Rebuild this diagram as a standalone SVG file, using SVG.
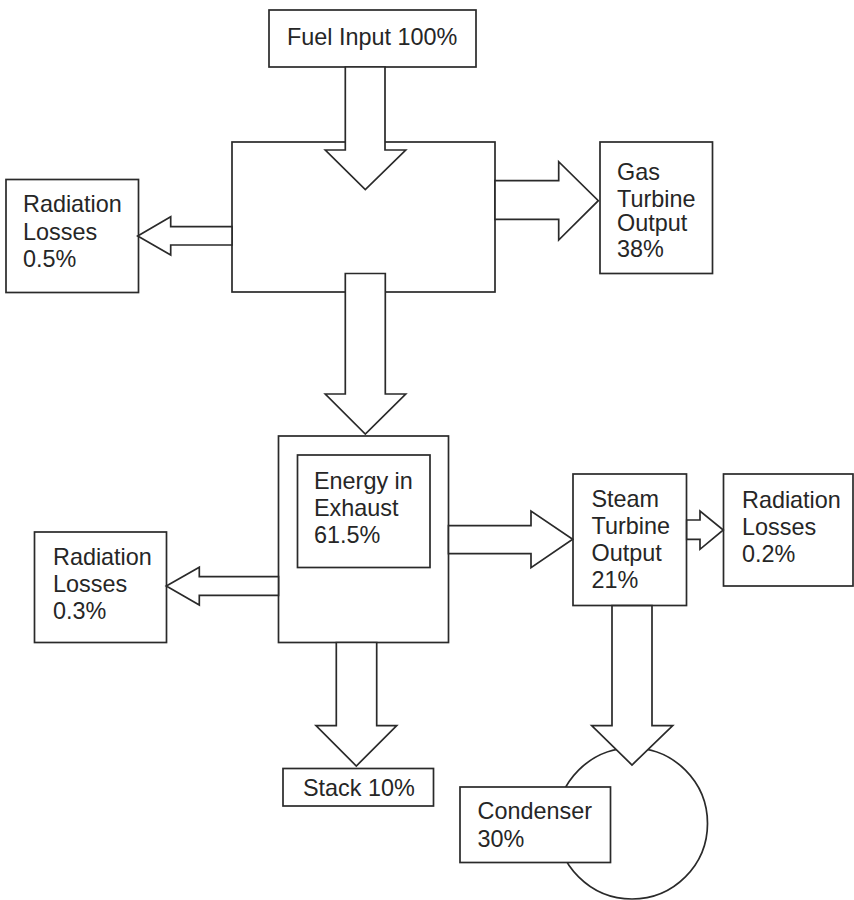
<svg xmlns="http://www.w3.org/2000/svg" width="854" height="900" viewBox="0 0 854 900">
<style>
.b{fill:#fff;stroke:#2a2a2a;stroke-width:1.7}
.a{fill:#fff;stroke:#2a2a2a;stroke-width:1.7;stroke-linejoin:miter}
text{font-family:"Liberation Sans",Arial,sans-serif;font-size:23.4px;fill:#262626}
</style>
<rect width="854" height="900" fill="#fff"/>
<g id="gas-turbine"><rect class="b" x="232" y="142" width="263" height="150"/></g>
<g id="exhaust"><rect class="b" x="278.5" y="436" width="170" height="206.5"/>
<rect class="b" x="297.5" y="455" width="132.5" height="112.5"/>
<text x="314" y="489">Energy in</text><text x="314" y="516">Exhaust</text><text x="314" y="543">61.5%</text></g>
<g id="fuel"><rect class="b" x="269" y="10" width="207" height="57"/><text x="287" y="45">Fuel Input 100%</text></g>
<g id="rad1"><rect class="b" x="6" y="179.5" width="132.5" height="113"/>
<text x="23" y="212">Radiation</text><text x="23" y="239.5">Losses</text><text x="23" y="266.5">0.5%</text></g>
<g id="gto"><rect class="b" x="600" y="142" width="112.5" height="131.5"/>
<text x="617" y="180">Gas</text><text x="617" y="207">Turbine</text><text x="617" y="231">Output</text><text x="617" y="257">38%</text></g>
<g id="rad2"><rect class="b" x="34.5" y="532" width="132" height="110.5"/>
<text x="53" y="565">Radiation</text><text x="53" y="592">Losses</text><text x="53" y="619">0.3%</text></g>
<g id="steam"><rect class="b" x="573" y="474" width="113.5" height="131.5"/>
<text x="591.5" y="506.5">Steam</text><text x="591.5" y="533.5">Turbine</text><text x="591.5" y="560.5">Output</text><text x="591.5" y="588">21%</text></g>
<g id="rad3"><rect class="b" x="723.5" y="474" width="129.5" height="112"/>
<text x="742" y="508">Radiation</text><text x="742" y="535">Losses</text><text x="742" y="562">0.2%</text></g>
<g id="stack"><rect class="b" x="283" y="768.5" width="150.5" height="37.5"/><text x="303" y="796">Stack 10%</text></g>
<g id="condenser-circle"><circle class="b" cx="632" cy="823.5" r="75.5"/></g>
<g id="connectors">
<polygon class="a" points="345.3,67 385,67 385,150 405.7,150 365.3,189.5 325.3,150 345.3,150"/>
<polygon class="a" points="345.3,273.5 385.3,273.5 385.3,394 405.7,394 365.3,434 325.3,394 345.3,394"/>
<polygon class="a" points="495,180.7 558.7,180.7 558.7,161.7 598.3,200.7 558.7,240 558.7,219.3 495,219.3"/>
<polygon class="a" points="232,226.7 170.7,226.7 170.7,216.7 137.7,236 170.7,255 170.7,245 232,245"/>
<polygon class="a" points="448.5,525.7 531,525.7 531,511 572.7,539.3 531,567.7 531,553.7 448.5,553.7"/>
<polygon class="a" points="278.5,576.7 199.3,576.7 199.3,567.3 166.3,586 199.3,605 199.3,595.3 278.5,595.3"/>
<polygon class="a" points="336.3,642.5 376.7,642.5 376.7,725.7 396.7,725.7 356.3,766 316,725.7 336.3,725.7"/>
<polygon class="a" points="686.7,520 700,520 700,511 723.3,530 700,549.3 700,539.3 686.7,539.3"/>
<polygon class="a" points="612,605.7 652,605.7 652,725.7 672.7,725.7 632,765 591.7,725.7 612,725.7"/>
</g>
<g id="condenser"><rect class="b" x="460" y="787" width="150.5" height="75.5"/>
<text x="477.5" y="819">Condenser</text><text x="477.5" y="846.5">30%</text></g>
</svg>
